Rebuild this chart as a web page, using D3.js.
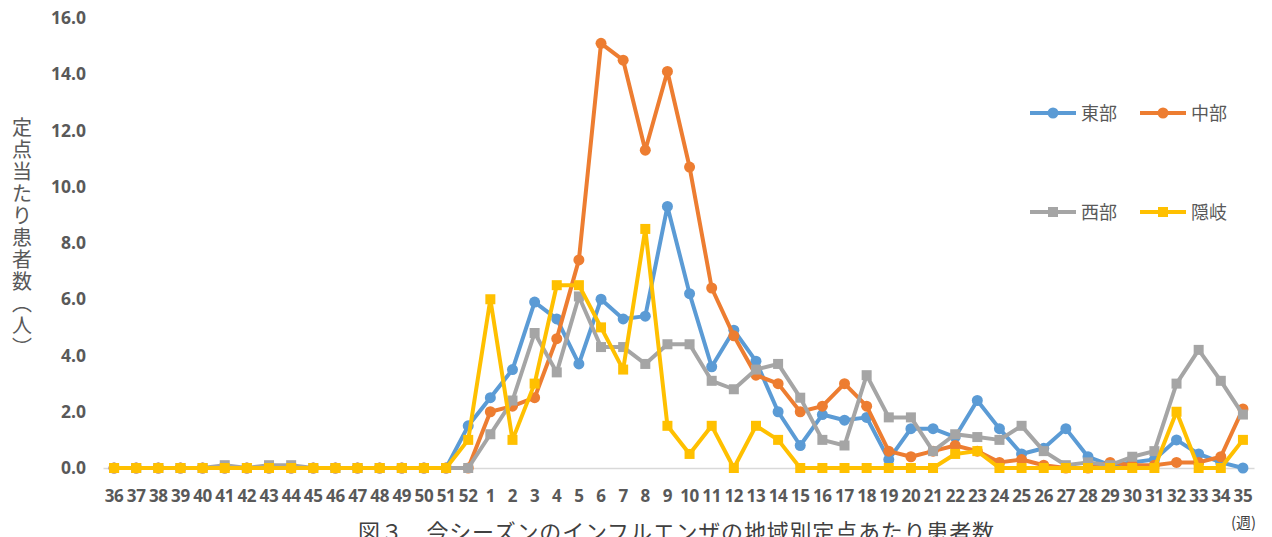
<!DOCTYPE html>
<html><head><meta charset="utf-8">
<script src="https://cdn.jsdelivr.net/npm/d3@7"></script>
<style>
html,body{margin:0;padding:0;background:#fff;}
svg{display:block;}
text{font-family:"Noto Sans CJK JP","Noto Sans",sans-serif;}
</style></head>
<body>
<svg id="chart" width="1272" height="537"></svg>
<script>
const weeks = ["36","37","38","39","40","41","42","43","44","45","46","47","48","49","50","51","52",
  "1","2","3","4","5","6","7","8","9","10","11","12","13","14","15","16","17","18","19","20",
  "21","22","23","24","25","26","27","28","29","30","31","32","33","34","35"];
const yTicks = [0,2,4,6,8,10,12,14,16];
const seriesNames = ["東部","中部","西部","隠岐"];
const east = [0,0,0,0,0,0,0,0,0,0,0,0,0,0,0,0,1.5,
  2.5,3.5,5.9,5.3,3.7,6.0,5.3,5.4,9.3,6.2,3.6,4.9,3.8,2.0,0.8,1.9,1.7,1.8,0.3,1.4,
  1.4,1.1,2.4,1.4,0.5,0.7,1.4,0.4,0.1,0.2,0.3,1.0,0.5,0.2,0.0];
const middle = [0,0,0,0,0,0,0,0,0,0,0,0,0,0,0,0,0,
  2.0,2.2,2.5,4.6,7.4,15.1,14.5,11.3,14.1,10.7,6.4,4.7,3.3,3.0,2.0,2.2,3.0,2.2,0.6,0.4,
  0.6,0.8,0.6,0.2,0.3,0.1,0.0,0.0,0.2,0.1,0.1,0.2,0.2,0.4,2.1];
const west = [0,0,0,0,0,0.1,0,0.1,0.1,0,0,0,0,0,0,0,0,
  1.2,2.4,4.8,3.4,6.1,4.3,4.3,3.7,4.4,4.4,3.1,2.8,3.5,3.7,2.5,1.0,0.8,3.3,1.8,1.8,
  0.6,1.2,1.1,1.0,1.5,0.6,0.1,0.2,0.1,0.4,0.6,3.0,4.2,3.1,1.9];
const oki = [0,0,0,0,0,0,0,0,0,0,0,0,0,0,0,0,1.0,
  6.0,1.0,3.0,6.5,6.5,5.0,3.5,8.5,1.5,0.5,1.5,0,1.5,1.0,0,0,0,0,0,0,
  0,0.5,0.6,0,0,0,0,0,0,0,0,2.0,0,0,1.0];
const yTitleChars = ["定","点","当","た","り","患","者","数","︵","人","︶"];
const xUnit = "(週)";
const title = "図３　今シーズンのインフルエンザの地域別定点あたり患者数";

const colors = ["#5B9BD5","#ED7D31","#A5A5A5","#FFC000"];
const shapes = ["circle","circle","square","square"];
const allSeries = [east, middle, west, oki];

const svg = d3.select("#chart");
const x = d3.scaleBand().domain(weeks).range([103,1254]);
const y = d3.scaleLinear().domain([0,16]).range([468,18]);
const cx = w => x(w) + x.bandwidth()/2;

// y axis labels
const yAxis = d3.axisLeft(y).tickValues(yTicks).tickFormat(d3.format(".1f")).tickSize(0).tickPadding(0);
const ga = svg.append("g").attr("transform","translate(86,0)").call(yAxis);
ga.select(".domain").remove();
ga.selectAll("text").attr("fill","#595959").attr("font-size","17.5px").attr("font-weight","bold")
  .style("font-family","'Open Sans','Noto Sans',sans-serif");

// x axis
const xAxis = d3.axisBottom(x).tickSize(0).tickPadding(0);
const gx = svg.append("g").attr("transform","translate(0,468)").call(xAxis);
gx.select(".domain").attr("stroke","#d9d9d9").attr("stroke-width",1.3);
gx.selectAll("text").attr("fill","#595959").attr("font-size","17px").attr("font-weight","bold")
  .attr("dy","0").attr("y",34).attr("letter-spacing","-0.3px")
  .style("font-family","'Open Sans','Noto Sans',sans-serif");

// lines
const line = d3.line().x((d,i)=>cx(weeks[i])).y(d=>y(d));
allSeries.forEach((s,k)=>{
  const g = svg.append("g");
  g.append("path").datum(s).attr("d",line).attr("fill","none")
    .attr("stroke",colors[k]).attr("stroke-width",4).attr("stroke-linejoin","round");
  if (shapes[k]==="circle") {
    g.selectAll("circle").data(s).join("circle")
      .attr("cx",(d,i)=>cx(weeks[i])).attr("cy",d=>y(d)).attr("r",5.5).attr("fill",colors[k]);
  } else {
    g.selectAll("rect").data(s).join("rect")
      .attr("x",(d,i)=>cx(weeks[i])-5).attr("y",d=>y(d)-5).attr("width",10).attr("height",10).attr("fill",colors[k]);
  }
});

// legend
const legendPos = [[1030,113],[1140,113],[1030,212],[1140,212]];
seriesNames.forEach((n,k)=>{
  const [lx,ly] = legendPos[k];
  const g = svg.append("g").attr("transform",`translate(${lx},${ly})`);
  g.append("line").attr("x1",0).attr("x2",46).attr("y1",0).attr("y2",0)
    .attr("stroke",colors[k]).attr("stroke-width",4);
  if (shapes[k]==="circle") g.append("circle").attr("cx",23).attr("cy",0).attr("r",5.5).attr("fill",colors[k]);
  else g.append("rect").attr("x",18).attr("y",-5).attr("width",10).attr("height",10).attr("fill",colors[k]);
  g.append("text").attr("x",51).attr("y",7).attr("font-size","18px").attr("fill","#595959").text(n);
});

// y title (vertical, one glyph per line)
const yt = svg.append("text").attr("font-size","20px").attr("fill","#595959").attr("text-anchor","middle");
yt.selectAll("tspan").data(yTitleChars).join("tspan")
  .attr("x",22).attr("y",(d,i)=>135 + i*22).text(d=>d);

// unit
svg.append("text").attr("x",1231).attr("y",528).attr("font-size","15px").attr("fill","#404040").text(xUnit);

// title
svg.append("text").attr("x",358).attr("y",540).attr("font-size","22px").attr("fill","#404040")
  .attr("textLength",636).attr("lengthAdjust","spacing").text(title);
</script>
</body></html>
